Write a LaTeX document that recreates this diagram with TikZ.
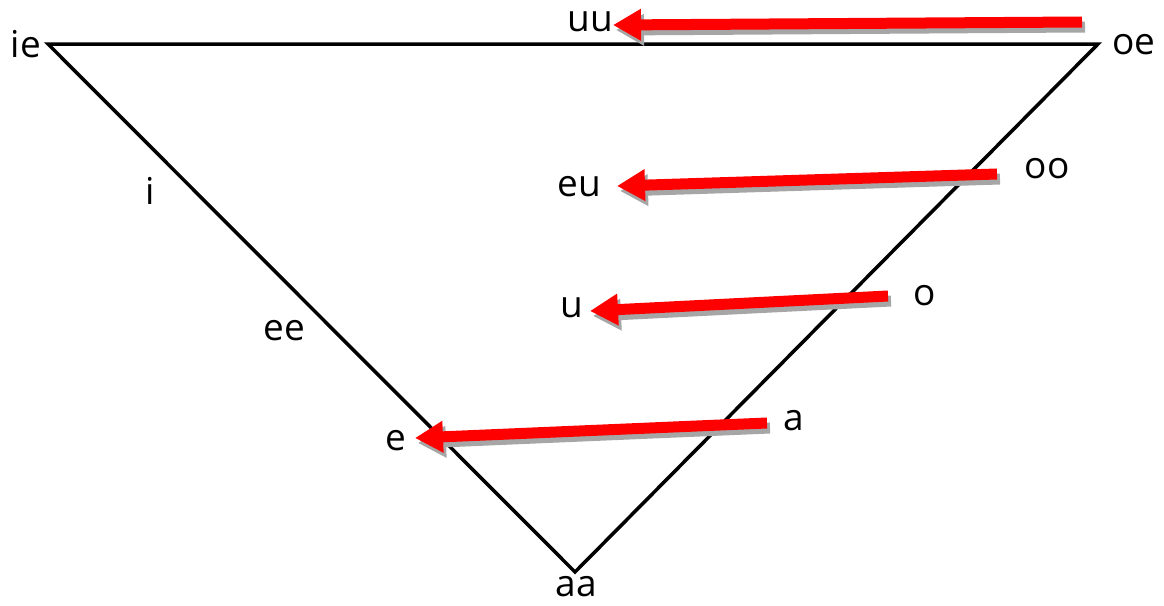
\documentclass[tikz,border=0pt]{standalone}
\usepackage{fontspec}
\setmainfont{Open Sans}
\usetikzlibrary{arrows.meta}
\begin{document}
\begin{tikzpicture}[x=1pt,y=-1pt,
  lbl/.style={inner sep=0pt,font=\fontsize{37}{37}\selectfont},
  edge/.style={line width=3.5pt,black,line join=miter},
  redarrow/.style={draw=red,line width=11pt,-{Triangle[length=28pt,width=30pt]}},
  shadowarrow/.style={draw=black!35,line width=11pt,-{Triangle[length=28pt,width=30pt]}}]
\useasboundingbox (0,0) rectangle (1164,605);
% triangle vertices
\coordinate (vie) at (48,44);
\coordinate (voe) at (1098,44);
\coordinate (vaa) at (575,572);
\draw[edge] (vie) -- (voe) -- (vaa) -- cycle;
% labels
\node[lbl] (ie) at (26,44) {ie};
\node[lbl] (oe) at (1134,45) {oe};
\node[lbl] (aa) at (576,587) {aa};
\node[lbl] (uu) at (590,22) {uu};
\node[lbl] (eu) at (579,187) {eu};
\node[lbl] (u) at (572,308) {u};
\node[lbl] (e) at (396,441) {e};
\node[lbl] (i) at (150,191) {i};
\node[lbl] (ee) at (284,331) {ee};
\node[lbl] (oo) at (1047,169) {oo};
\node[lbl] (o) at (925,296) {o};
\node[lbl] (a) at (794,421) {a};
% arrow end points
\coordinate (t1) at (1082,22);  \coordinate (h1) at (613,25);
\coordinate (t2) at (997,174);  \coordinate (h2) at (617,186);
\coordinate (t3) at (888,296);  \coordinate (h3) at (590,311);
\coordinate (t4) at (767,423);  \coordinate (h4) at (415,438);
\foreach \t/\h in {t1/h1,t2/h2,t3/h3,t4/h4}{
  \draw[shadowarrow] ([shift={(3,5)}]\t) -- ([shift={(3,5)}]\h);
  \draw[redarrow] (\t) -- (\h);
}
\end{tikzpicture}
\end{document}
